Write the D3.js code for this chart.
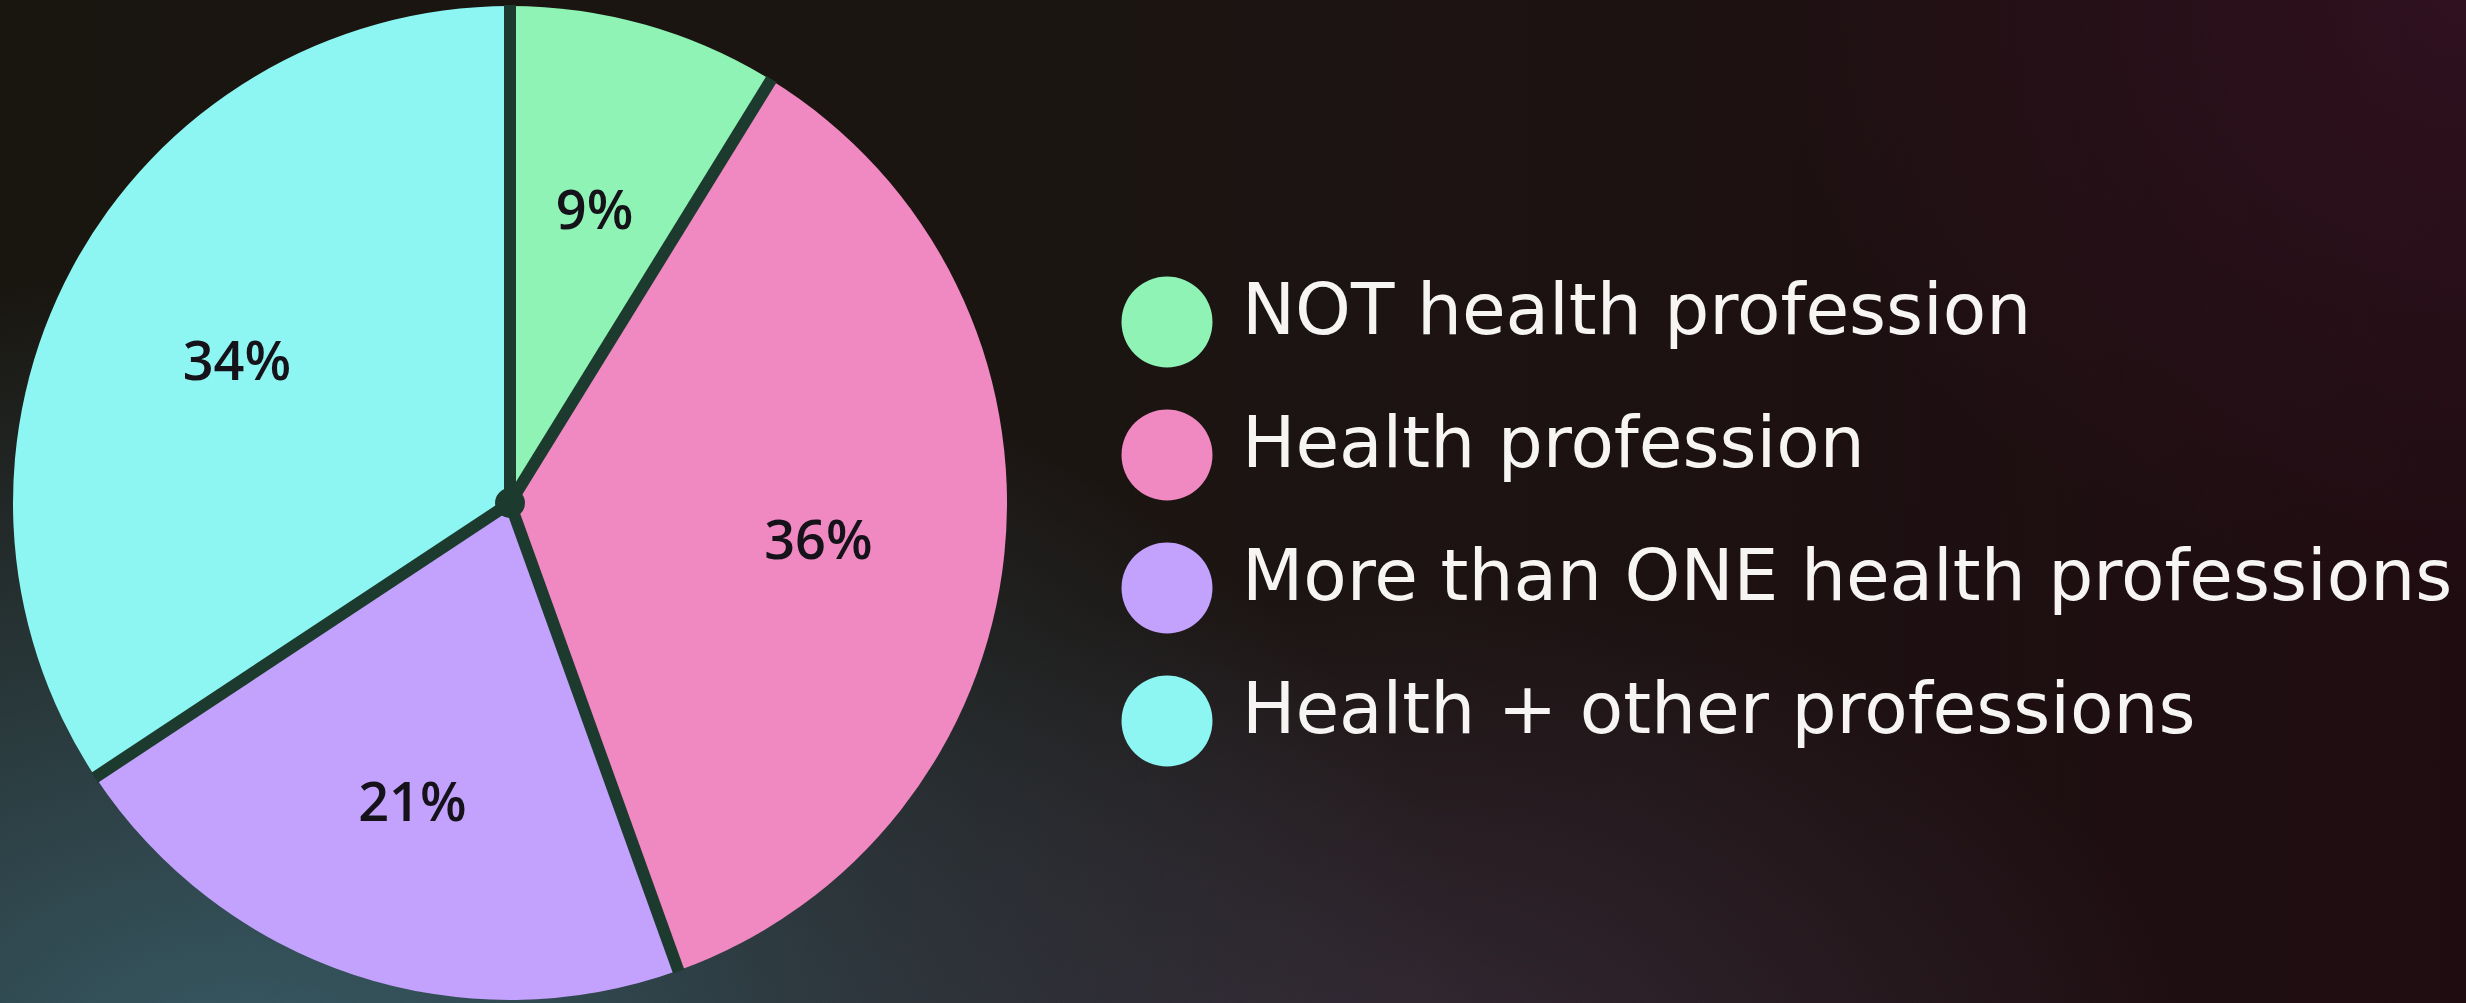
<!DOCTYPE html>
<html>
<head>
<meta charset="utf-8">
<script src="https://cdn.jsdelivr.net/npm/d3@7"></script>
<style>
  html, body { margin: 0; padding: 0; overflow: hidden; background: #1a1512; }
  svg { display: block; }
</style>
</head>
<body>
<svg id="chart" width="2466" height="1003"></svg>
<script>
// ---- data ----
const categories = ["NOT health profession", "Health profession", "More than ONE health professions", "Health + other professions"];
const values = [8.8, 35.7, 21.2, 34.3];
const valueLabels = values.map(v => Math.round(v) + "%");
const colors = ["#8ef3b5", "#f088c1", "#c2a2fd", "#8df5f2"];

const W = 2466, H = 1003;
const svg = d3.select("#chart");
const defs = svg.append("defs");

// ---- background ----
const lg = defs.append("linearGradient").attr("id", "bgBase").attr("x1", 0).attr("y1", 0).attr("x2", 1).attr("y2", 0);
lg.append("stop").attr("offset", "0%").attr("stop-color", "#19150f");
lg.append("stop").attr("offset", "45%").attr("stop-color", "#1b1512");
lg.append("stop").attr("offset", "100%").attr("stop-color", "#1f0c11");
svg.append("rect").attr("width", W).attr("height", H).attr("fill", "url(#bgBase)");

function radial(id, cx, cy, rx, ry, color, op) {
  const g = defs.append("radialGradient").attr("id", id)
    .attr("gradientUnits", "userSpaceOnUse").attr("cx", 0).attr("cy", 0).attr("r", 1)
    .attr("gradientTransform", `translate(${cx},${cy}) scale(${rx},${ry})`);
  g.append("stop").attr("offset", "0%").attr("stop-color", color).attr("stop-opacity", op);
  g.append("stop").attr("offset", "100%").attr("stop-color", color).attr("stop-opacity", 0);
  svg.append("rect").attr("width", W).attr("height", H).attr("fill", `url(#${id})`);
}
radial("bgTeal", 250, 1080, 1250, 820, "#3a5e6a", 0.95);
radial("bgPurpleBottom", 1400, 1080, 800, 500, "#3d3242", 0.7);
radial("bgTopRight", 2466, 0, 700, 600, "#3a1428", 0.6);

// ---- pie ----
const cx = 510, cy = 503, R = 497;
const pie = d3.pie().value(d => d).sort(null).startAngle(0).endAngle(2 * Math.PI);
const arcs = pie(values);
const arc = d3.arc().innerRadius(0).outerRadius(R);
const labelArc = d3.arc().innerRadius(310).outerRadius(310);

const g = svg.append("g").attr("transform", `translate(${cx},${cy})`);
g.selectAll("path.slice").data(arcs).join("path")
  .attr("class", "slice")
  .attr("d", arc)
  .attr("fill", (d, i) => colors[i]);

// separators
const sepColor = "#1d3a2f";
g.selectAll("line.sep").data(arcs).join("line")
  .attr("class", "sep")
  .attr("x1", 0).attr("y1", 0)
  .attr("x2", d => Math.sin(d.startAngle) * (R + 1))
  .attr("y2", d => -Math.cos(d.startAngle) * (R + 1))
  .attr("stroke", sepColor).attr("stroke-width", 12);
g.append("circle").attr("r", 15).attr("fill", sepColor);

// value labels
g.selectAll("text.val").data(arcs).join("text")
  .attr("class", "val")
  .attr("transform", d => `translate(${labelArc.centroid(d)})`)
  .attr("text-anchor", "middle")
  .attr("dy", "0.44em")
  .attr("font-family", "'Open Sans', sans-serif")
  .attr("font-weight", 600)
  .attr("font-size", 54)
  .attr("fill", "#15121a")
  .text((d, i) => valueLabels[i]);

// ---- legend ----
const legendY = d3.scalePoint().domain(categories).range([322, 721]);
const lgG = svg.append("g");
const items = lgG.selectAll("g.item").data(categories).join("g")
  .attr("class", "item")
  .attr("transform", d => `translate(0,${legendY(d)})`);
items.append("circle").attr("cx", 1167).attr("cy", 0).attr("r", 45.5)
  .attr("fill", (d, i) => colors[i]);
items.append("text")
  .attr("x", 1242).attr("y", 12)
  .attr("font-family", "'DejaVu Sans', sans-serif")
  .attr("font-size", 71)
  .attr("fill", "#f7f5f4")
  .text(d => d);
</script>
</body>
</html>
